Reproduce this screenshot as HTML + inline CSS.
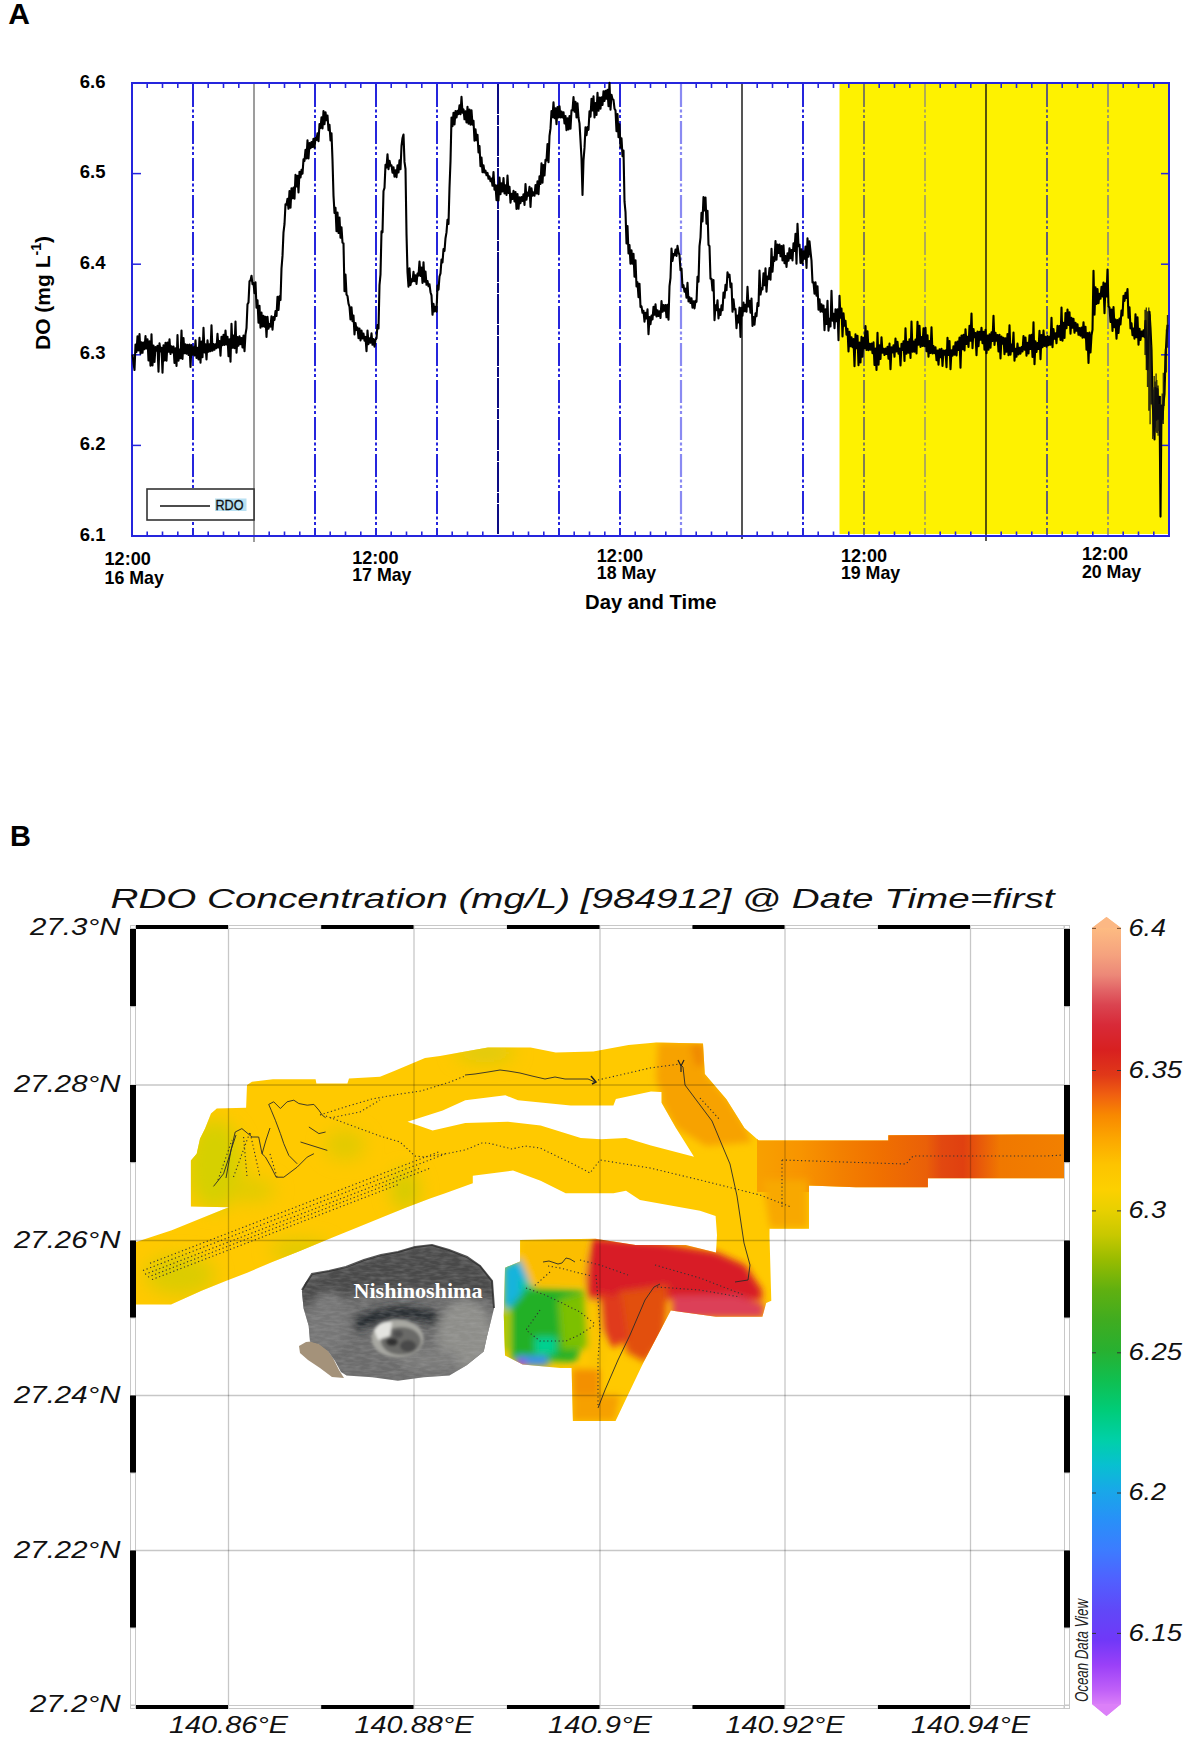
<!DOCTYPE html>
<html><head><meta charset="utf-8"><style>
html,body{margin:0;padding:0;background:#fff;}
body{width:1195px;height:1761px;overflow:hidden;position:relative;}
svg{position:absolute;left:0;top:0;display:block;}
.tk{font-family:"Liberation Sans",sans-serif;font-weight:bold;font-size:18.5px;fill:#000;}
.ttl{font-family:"Liberation Sans",sans-serif;font-weight:bold;font-size:19.5px;fill:#000;}
.pl{font-family:"Liberation Sans",sans-serif;font-weight:bold;font-size:29px;fill:#000;}
.yt{font-family:"Liberation Sans",sans-serif;font-weight:bold;font-size:21px;fill:#000;}
.leg{font-family:"Liberation Sans",sans-serif;font-size:14px;fill:#111;stroke:#111;stroke-width:0.3px;}
.mt{font-family:"Liberation Sans",sans-serif;font-style:italic;font-size:27px;fill:#111;}
.ax{font-family:"Liberation Sans",sans-serif;font-style:italic;font-size:23px;fill:#111;}
.odv{font-family:"Liberation Sans",sans-serif;font-style:italic;font-size:18px;fill:#222;}
.ni{font-family:"Liberation Serif",serif;font-weight:bold;font-size:22px;fill:#fff;}
</style></head><body>
<svg width="1195" height="1761" viewBox="0 0 1195 1761">

<rect x="839.5" y="84" width="329" height="450" fill="#fef200"/>
<line x1="193" y1="84" x2="193" y2="535" stroke="#2525dd" stroke-width="2" stroke-dasharray="23 2.5 3 2.5 3 3"/>
<line x1="254" y1="84" x2="254" y2="542" stroke="#858585" stroke-width="1.6"/>
<line x1="315" y1="84" x2="315" y2="535" stroke="#2525dd" stroke-width="2" stroke-dasharray="23 2.5 3 2.5 3 3"/>
<line x1="376" y1="84" x2="376" y2="535" stroke="#2525dd" stroke-width="2" stroke-dasharray="23 2.5 3 2.5 3 3"/>
<line x1="437" y1="84" x2="437" y2="535" stroke="#2525dd" stroke-width="2" stroke-dasharray="23 2.5 3 2.5 3 3"/>
<line x1="498" y1="84" x2="498" y2="535" stroke="#0c0c84" stroke-width="2" stroke-dasharray="30 1 10 1"/>
<line x1="559" y1="84" x2="559" y2="535" stroke="#2525dd" stroke-width="2" stroke-dasharray="23 2.5 3 2.5 3 3"/>
<line x1="620" y1="84" x2="620" y2="535" stroke="#2525dd" stroke-width="2" stroke-dasharray="23 2.5 3 2.5 3 3"/>
<line x1="681" y1="84" x2="681" y2="535" stroke="#8a8af2" stroke-width="2.2" stroke-dasharray="23 2.5 3 2.5 3 3"/>
<line x1="742" y1="84" x2="742" y2="539" stroke="#555" stroke-width="2"/>
<line x1="803" y1="84" x2="803" y2="535" stroke="#2525dd" stroke-width="2" stroke-dasharray="23 2.5 3 2.5 3 3"/>
<line x1="864" y1="84" x2="864" y2="535" stroke="#404080" stroke-width="1.3" stroke-dasharray="23 2.5 3 2.5 3 3"/>
<line x1="925" y1="84" x2="925" y2="535" stroke="#858585" stroke-width="1.3" stroke-dasharray="23 2.5 3 2.5 3 3"/>
<line x1="986" y1="84" x2="986" y2="541" stroke="#111" stroke-width="1.4"/>
<line x1="1047" y1="84" x2="1047" y2="535" stroke="#2020a8" stroke-width="1.4" stroke-dasharray="23 2.5 3 2.5 3 3"/>
<line x1="1108" y1="84" x2="1108" y2="535" stroke="#6a6aa0" stroke-width="1.3" stroke-dasharray="23 2.5 3 2.5 3 3"/>
<line x1="147.2" y1="84" x2="147.2" y2="88" stroke="#2525dd" stroke-width="1.6"/>
<line x1="147.2" y1="535" x2="147.2" y2="531.5" stroke="#2525dd" stroke-width="1.6"/>
<line x1="162.5" y1="84" x2="162.5" y2="88" stroke="#2525dd" stroke-width="1.6"/>
<line x1="162.5" y1="535" x2="162.5" y2="531.5" stroke="#2525dd" stroke-width="1.6"/>
<line x1="177.8" y1="84" x2="177.8" y2="88" stroke="#2525dd" stroke-width="1.6"/>
<line x1="177.8" y1="535" x2="177.8" y2="531.5" stroke="#2525dd" stroke-width="1.6"/>
<line x1="208.2" y1="84" x2="208.2" y2="88" stroke="#2525dd" stroke-width="1.6"/>
<line x1="208.2" y1="535" x2="208.2" y2="531.5" stroke="#2525dd" stroke-width="1.6"/>
<line x1="223.5" y1="84" x2="223.5" y2="88" stroke="#2525dd" stroke-width="1.6"/>
<line x1="223.5" y1="535" x2="223.5" y2="531.5" stroke="#2525dd" stroke-width="1.6"/>
<line x1="238.8" y1="84" x2="238.8" y2="88" stroke="#2525dd" stroke-width="1.6"/>
<line x1="238.8" y1="535" x2="238.8" y2="531.5" stroke="#2525dd" stroke-width="1.6"/>
<line x1="269.2" y1="84" x2="269.2" y2="88" stroke="#2525dd" stroke-width="1.6"/>
<line x1="269.2" y1="535" x2="269.2" y2="531.5" stroke="#2525dd" stroke-width="1.6"/>
<line x1="284.5" y1="84" x2="284.5" y2="88" stroke="#2525dd" stroke-width="1.6"/>
<line x1="284.5" y1="535" x2="284.5" y2="531.5" stroke="#2525dd" stroke-width="1.6"/>
<line x1="299.8" y1="84" x2="299.8" y2="88" stroke="#2525dd" stroke-width="1.6"/>
<line x1="299.8" y1="535" x2="299.8" y2="531.5" stroke="#2525dd" stroke-width="1.6"/>
<line x1="330.2" y1="84" x2="330.2" y2="88" stroke="#2525dd" stroke-width="1.6"/>
<line x1="330.2" y1="535" x2="330.2" y2="531.5" stroke="#2525dd" stroke-width="1.6"/>
<line x1="345.5" y1="84" x2="345.5" y2="88" stroke="#2525dd" stroke-width="1.6"/>
<line x1="345.5" y1="535" x2="345.5" y2="531.5" stroke="#2525dd" stroke-width="1.6"/>
<line x1="360.8" y1="84" x2="360.8" y2="88" stroke="#2525dd" stroke-width="1.6"/>
<line x1="360.8" y1="535" x2="360.8" y2="531.5" stroke="#2525dd" stroke-width="1.6"/>
<line x1="391.2" y1="84" x2="391.2" y2="88" stroke="#2525dd" stroke-width="1.6"/>
<line x1="391.2" y1="535" x2="391.2" y2="531.5" stroke="#2525dd" stroke-width="1.6"/>
<line x1="406.5" y1="84" x2="406.5" y2="88" stroke="#2525dd" stroke-width="1.6"/>
<line x1="406.5" y1="535" x2="406.5" y2="531.5" stroke="#2525dd" stroke-width="1.6"/>
<line x1="421.8" y1="84" x2="421.8" y2="88" stroke="#2525dd" stroke-width="1.6"/>
<line x1="421.8" y1="535" x2="421.8" y2="531.5" stroke="#2525dd" stroke-width="1.6"/>
<line x1="452.2" y1="84" x2="452.2" y2="88" stroke="#2525dd" stroke-width="1.6"/>
<line x1="452.2" y1="535" x2="452.2" y2="531.5" stroke="#2525dd" stroke-width="1.6"/>
<line x1="467.5" y1="84" x2="467.5" y2="88" stroke="#2525dd" stroke-width="1.6"/>
<line x1="467.5" y1="535" x2="467.5" y2="531.5" stroke="#2525dd" stroke-width="1.6"/>
<line x1="482.8" y1="84" x2="482.8" y2="88" stroke="#2525dd" stroke-width="1.6"/>
<line x1="482.8" y1="535" x2="482.8" y2="531.5" stroke="#2525dd" stroke-width="1.6"/>
<line x1="513.2" y1="84" x2="513.2" y2="88" stroke="#2525dd" stroke-width="1.6"/>
<line x1="513.2" y1="535" x2="513.2" y2="531.5" stroke="#2525dd" stroke-width="1.6"/>
<line x1="528.5" y1="84" x2="528.5" y2="88" stroke="#2525dd" stroke-width="1.6"/>
<line x1="528.5" y1="535" x2="528.5" y2="531.5" stroke="#2525dd" stroke-width="1.6"/>
<line x1="543.8" y1="84" x2="543.8" y2="88" stroke="#2525dd" stroke-width="1.6"/>
<line x1="543.8" y1="535" x2="543.8" y2="531.5" stroke="#2525dd" stroke-width="1.6"/>
<line x1="574.2" y1="84" x2="574.2" y2="88" stroke="#2525dd" stroke-width="1.6"/>
<line x1="574.2" y1="535" x2="574.2" y2="531.5" stroke="#2525dd" stroke-width="1.6"/>
<line x1="589.5" y1="84" x2="589.5" y2="88" stroke="#2525dd" stroke-width="1.6"/>
<line x1="589.5" y1="535" x2="589.5" y2="531.5" stroke="#2525dd" stroke-width="1.6"/>
<line x1="604.8" y1="84" x2="604.8" y2="88" stroke="#2525dd" stroke-width="1.6"/>
<line x1="604.8" y1="535" x2="604.8" y2="531.5" stroke="#2525dd" stroke-width="1.6"/>
<line x1="635.2" y1="84" x2="635.2" y2="88" stroke="#2525dd" stroke-width="1.6"/>
<line x1="635.2" y1="535" x2="635.2" y2="531.5" stroke="#2525dd" stroke-width="1.6"/>
<line x1="650.5" y1="84" x2="650.5" y2="88" stroke="#2525dd" stroke-width="1.6"/>
<line x1="650.5" y1="535" x2="650.5" y2="531.5" stroke="#2525dd" stroke-width="1.6"/>
<line x1="665.8" y1="84" x2="665.8" y2="88" stroke="#2525dd" stroke-width="1.6"/>
<line x1="665.8" y1="535" x2="665.8" y2="531.5" stroke="#2525dd" stroke-width="1.6"/>
<line x1="696.2" y1="84" x2="696.2" y2="88" stroke="#2525dd" stroke-width="1.6"/>
<line x1="696.2" y1="535" x2="696.2" y2="531.5" stroke="#2525dd" stroke-width="1.6"/>
<line x1="711.5" y1="84" x2="711.5" y2="88" stroke="#2525dd" stroke-width="1.6"/>
<line x1="711.5" y1="535" x2="711.5" y2="531.5" stroke="#2525dd" stroke-width="1.6"/>
<line x1="726.8" y1="84" x2="726.8" y2="88" stroke="#2525dd" stroke-width="1.6"/>
<line x1="726.8" y1="535" x2="726.8" y2="531.5" stroke="#2525dd" stroke-width="1.6"/>
<line x1="757.2" y1="84" x2="757.2" y2="88" stroke="#2525dd" stroke-width="1.6"/>
<line x1="757.2" y1="535" x2="757.2" y2="531.5" stroke="#2525dd" stroke-width="1.6"/>
<line x1="772.5" y1="84" x2="772.5" y2="88" stroke="#2525dd" stroke-width="1.6"/>
<line x1="772.5" y1="535" x2="772.5" y2="531.5" stroke="#2525dd" stroke-width="1.6"/>
<line x1="787.8" y1="84" x2="787.8" y2="88" stroke="#2525dd" stroke-width="1.6"/>
<line x1="787.8" y1="535" x2="787.8" y2="531.5" stroke="#2525dd" stroke-width="1.6"/>
<line x1="818.2" y1="84" x2="818.2" y2="88" stroke="#2525dd" stroke-width="1.6"/>
<line x1="818.2" y1="535" x2="818.2" y2="531.5" stroke="#2525dd" stroke-width="1.6"/>
<line x1="833.5" y1="84" x2="833.5" y2="88" stroke="#2525dd" stroke-width="1.6"/>
<line x1="833.5" y1="535" x2="833.5" y2="531.5" stroke="#2525dd" stroke-width="1.6"/>
<line x1="848.8" y1="84" x2="848.8" y2="88" stroke="#2525dd" stroke-width="1.6"/>
<line x1="848.8" y1="535" x2="848.8" y2="531.5" stroke="#2525dd" stroke-width="1.6"/>
<line x1="879.2" y1="84" x2="879.2" y2="88" stroke="#2525dd" stroke-width="1.6"/>
<line x1="879.2" y1="535" x2="879.2" y2="531.5" stroke="#2525dd" stroke-width="1.6"/>
<line x1="894.5" y1="84" x2="894.5" y2="88" stroke="#2525dd" stroke-width="1.6"/>
<line x1="894.5" y1="535" x2="894.5" y2="531.5" stroke="#2525dd" stroke-width="1.6"/>
<line x1="909.8" y1="84" x2="909.8" y2="88" stroke="#2525dd" stroke-width="1.6"/>
<line x1="909.8" y1="535" x2="909.8" y2="531.5" stroke="#2525dd" stroke-width="1.6"/>
<line x1="940.2" y1="84" x2="940.2" y2="88" stroke="#2525dd" stroke-width="1.6"/>
<line x1="940.2" y1="535" x2="940.2" y2="531.5" stroke="#2525dd" stroke-width="1.6"/>
<line x1="955.5" y1="84" x2="955.5" y2="88" stroke="#2525dd" stroke-width="1.6"/>
<line x1="955.5" y1="535" x2="955.5" y2="531.5" stroke="#2525dd" stroke-width="1.6"/>
<line x1="970.8" y1="84" x2="970.8" y2="88" stroke="#2525dd" stroke-width="1.6"/>
<line x1="970.8" y1="535" x2="970.8" y2="531.5" stroke="#2525dd" stroke-width="1.6"/>
<line x1="1001.2" y1="84" x2="1001.2" y2="88" stroke="#2525dd" stroke-width="1.6"/>
<line x1="1001.2" y1="535" x2="1001.2" y2="531.5" stroke="#2525dd" stroke-width="1.6"/>
<line x1="1016.5" y1="84" x2="1016.5" y2="88" stroke="#2525dd" stroke-width="1.6"/>
<line x1="1016.5" y1="535" x2="1016.5" y2="531.5" stroke="#2525dd" stroke-width="1.6"/>
<line x1="1031.8" y1="84" x2="1031.8" y2="88" stroke="#2525dd" stroke-width="1.6"/>
<line x1="1031.8" y1="535" x2="1031.8" y2="531.5" stroke="#2525dd" stroke-width="1.6"/>
<line x1="1062.2" y1="84" x2="1062.2" y2="88" stroke="#2525dd" stroke-width="1.6"/>
<line x1="1062.2" y1="535" x2="1062.2" y2="531.5" stroke="#2525dd" stroke-width="1.6"/>
<line x1="1077.5" y1="84" x2="1077.5" y2="88" stroke="#2525dd" stroke-width="1.6"/>
<line x1="1077.5" y1="535" x2="1077.5" y2="531.5" stroke="#2525dd" stroke-width="1.6"/>
<line x1="1092.8" y1="84" x2="1092.8" y2="88" stroke="#2525dd" stroke-width="1.6"/>
<line x1="1092.8" y1="535" x2="1092.8" y2="531.5" stroke="#2525dd" stroke-width="1.6"/>
<line x1="1123.2" y1="84" x2="1123.2" y2="88" stroke="#2525dd" stroke-width="1.6"/>
<line x1="1123.2" y1="535" x2="1123.2" y2="531.5" stroke="#2525dd" stroke-width="1.6"/>
<line x1="1138.5" y1="84" x2="1138.5" y2="88" stroke="#2525dd" stroke-width="1.6"/>
<line x1="1138.5" y1="535" x2="1138.5" y2="531.5" stroke="#2525dd" stroke-width="1.6"/>
<line x1="1153.8" y1="84" x2="1153.8" y2="88" stroke="#2525dd" stroke-width="1.6"/>
<line x1="1153.8" y1="535" x2="1153.8" y2="531.5" stroke="#2525dd" stroke-width="1.6"/>
<line x1="132" y1="173.6" x2="141" y2="173.6" stroke="#2525dd" stroke-width="1.5"/>
<line x1="1169" y1="173.6" x2="1161" y2="173.6" stroke="#2525dd" stroke-width="1.5"/>
<line x1="132" y1="264.2" x2="141" y2="264.2" stroke="#2525dd" stroke-width="1.5"/>
<line x1="1169" y1="264.2" x2="1161" y2="264.2" stroke="#2525dd" stroke-width="1.5"/>
<line x1="132" y1="354.8" x2="141" y2="354.8" stroke="#2525dd" stroke-width="1.5"/>
<line x1="1169" y1="354.8" x2="1161" y2="354.8" stroke="#2525dd" stroke-width="1.5"/>
<line x1="132" y1="445.4" x2="141" y2="445.4" stroke="#2525dd" stroke-width="1.5"/>
<line x1="1169" y1="445.4" x2="1161" y2="445.4" stroke="#2525dd" stroke-width="1.5"/>
<rect x="132" y="83" width="1037" height="453" fill="none" stroke="#2525dd" stroke-width="2"/>
<rect x="147" y="489" width="107" height="31" fill="#fff" stroke="#333" stroke-width="1.6"/>
<line x1="160" y1="506" x2="210" y2="506" stroke="#111" stroke-width="1.3"/>
<rect x="215" y="498.5" width="31.5" height="12.5" fill="#b8e0f2"/>
<text x="215.5" y="510.2" class="leg" textLength="28" lengthAdjust="spacingAndGlyphs">RDO</text>
<polyline points="132.5,354.5 133.5,363.0 134.5,370.0 135.5,344.5 136.5,352.0 137.5,336.4 138.5,350.5 139.5,334.1 140.5,353.6 141.5,342.2 142.5,352.8 143.5,342.6 144.5,349.2 145.5,336.1 146.5,348.5 147.5,339.3 148.5,360.4 149.5,341.4 150.5,365.7 151.5,334.3 152.5,365.4 153.5,345.5 154.5,362.0 155.5,347.0 156.5,350.6 157.5,345.8 158.5,371.8 159.5,343.3 160.5,351.5 161.5,347.8 162.5,372.6 163.5,345.3 164.5,360.5 165.5,342.8 166.5,360.6 167.5,342.6 168.5,351.8 169.5,339.3 170.5,354.0 171.5,346.2 172.5,352.4 173.5,346.5 174.5,362.9 175.5,348.4 176.5,365.9 177.5,335.1 178.5,360.6 179.5,349.6 180.5,358.3 181.5,330.6 182.5,359.0 183.5,338.0 184.5,353.3 185.5,344.4 186.5,353.6 187.5,344.8 188.5,355.0 189.5,344.6 190.5,366.9 191.5,345.1 192.5,354.6 193.5,347.4 194.5,355.5 195.5,340.3 196.5,357.9 197.5,347.8 198.5,359.5 199.5,337.8 200.5,362.8 201.5,341.5 202.5,357.2 203.5,327.9 204.5,352.5 205.5,344.3 206.5,359.4 207.5,340.3 208.5,351.8 209.5,344.4 210.5,351.1 211.5,325.3 212.5,350.7 213.5,344.0 214.5,349.7 215.5,344.3 216.5,348.3 217.5,333.9 218.5,347.4 219.5,341.0 220.5,355.6 221.5,336.8 222.5,345.2 223.5,334.8 224.5,345.0 225.5,330.5 226.5,344.5 227.5,336.7 228.5,356.2 229.5,339.2 230.5,361.7 231.5,323.7 232.5,347.8 233.5,335.6 234.5,348.2 235.5,321.5 236.5,352.6 237.5,337.1 238.5,345.6 239.5,336.4 240.5,344.1 241.5,338.0 242.5,347.5 243.5,335.6 244.5,351.2 245.5,334.3 246.5,328.2 247.5,304.3 248.5,302.4 249.5,281.3 250.5,280.4 251.5,275.7 252.5,284.1 253.5,283.0 254.5,293.2 255.5,282.2 256.5,307.8 257.5,300.4 258.5,322.8 259.5,305.9 260.5,327.8 261.5,312.6 262.5,326.4 263.5,315.9 264.5,326.6 265.5,316.7 266.5,337.0 267.5,316.8 268.5,328.7 269.5,324.1 270.5,326.6 271.5,316.2 272.5,329.7 273.5,317.1 274.5,320.0 275.5,311.0 276.5,315.9 277.5,296.9 278.5,309.9 279.5,296.2 280.5,300.0 281.5,268.4 282.5,255.9 283.5,232.3 284.5,224.0 285.5,204.3 286.5,204.7 287.5,198.8 288.5,208.8 289.5,191.0 290.5,207.7 291.5,188.4 292.5,198.3 293.5,187.5 294.5,198.7 295.5,174.9 296.5,186.4 297.5,175.9 298.5,192.4 299.5,171.9 300.5,177.5 301.5,169.9 302.5,173.8 303.5,159.4 304.5,160.9 305.5,149.8 306.5,158.4 307.5,140.3 308.5,158.5 309.5,143.1 310.5,148.3 311.5,142.0 312.5,147.0 313.5,138.7 314.5,147.7 315.5,138.1 316.5,139.9 317.5,133.2 318.5,141.2 319.5,124.0 320.5,128.1 321.5,117.4 322.5,128.5 323.5,111.0 324.5,124.1 325.5,112.2 326.5,120.2 327.5,115.6 328.5,130.2 329.5,124.7 330.5,140.4 331.5,133.2 332.5,160.1 333.5,195.6 334.5,212.9 335.5,207.8 336.5,231.1 337.5,212.6 338.5,233.0 339.5,217.6 340.5,237.8 341.5,227.4 342.5,242.7 343.5,243.3 344.5,291.3 345.5,274.6 346.5,294.6 347.5,296.0 348.5,303.7 349.5,306.7 350.5,319.4 351.5,307.3 352.5,321.2 353.5,315.6 354.5,334.5 355.5,323.0 356.5,330.0 357.5,327.5 358.5,338.1 359.5,328.6 360.5,340.5 361.5,330.5 362.5,338.5 363.5,333.6 364.5,340.6 365.5,336.9 366.5,351.3 367.5,330.6 368.5,344.1 369.5,338.4 370.5,342.8 371.5,333.3 372.5,344.8 373.5,339.1 374.5,346.6 375.5,339.5 376.5,338.3 377.5,325.0 378.5,328.5 379.5,285.2 380.5,274.3 381.5,231.4 382.5,232.3 383.5,191.0 384.5,187.9 385.5,164.9 386.5,167.6 387.5,154.4 388.5,169.1 389.5,160.8 390.5,165.8 391.5,165.3 392.5,172.7 393.5,167.2 394.5,176.6 395.5,170.3 396.5,177.1 397.5,165.4 398.5,172.4 399.5,160.4 400.5,169.3 401.5,146.0 402.5,138.0 403.5,134.6 404.5,161.9 405.5,169.0 406.5,233.7 407.5,272.1 408.5,286.7 409.5,268.4 410.5,285.1 411.5,279.4 412.5,281.3 413.5,271.8 414.5,281.1 415.5,275.3 416.5,284.0 417.5,273.5 418.5,275.6 419.5,261.5 420.5,275.9 421.5,267.6 422.5,282.9 423.5,262.2 424.5,281.8 425.5,271.5 426.5,284.8 427.5,281.0 428.5,286.3 429.5,284.3 430.5,292.2 431.5,295.4 432.5,314.8 433.5,303.8 434.5,311.4 435.5,306.7 436.5,311.6 437.5,285.6 438.5,289.7 439.5,276.5 440.5,273.4 441.5,259.6 442.5,262.5 443.5,249.0 444.5,251.0 445.5,238.2 446.5,232.4 447.5,219.7 448.5,224.0 449.5,187.5 450.5,161.1 451.5,117.5 452.5,126.2 453.5,112.9 454.5,124.4 455.5,111.0 456.5,117.5 457.5,110.8 458.5,114.1 459.5,105.3 460.5,114.2 461.5,96.8 462.5,112.8 463.5,109.4 464.5,119.3 465.5,111.4 466.5,122.5 467.5,106.9 468.5,123.8 469.5,109.5 470.5,124.8 471.5,110.3 472.5,124.8 473.5,120.8 474.5,140.7 475.5,129.3 476.5,140.3 477.5,134.8 478.5,152.4 479.5,146.0 480.5,166.2 481.5,157.6 482.5,172.3 483.5,165.4 484.5,172.5 485.5,170.7 486.5,175.3 487.5,172.9 488.5,178.7 489.5,176.4 490.5,181.2 491.5,178.6 492.5,185.8 493.5,172.0 494.5,189.6 495.5,185.2 496.5,200.3 497.5,185.2 498.5,200.5 499.5,177.5 500.5,194.1 501.5,183.4 502.5,191.5 503.5,178.1 504.5,193.4 505.5,185.4 506.5,195.0 507.5,175.6 508.5,192.9 509.5,186.8 510.5,202.6 511.5,193.9 512.5,199.0 513.5,190.8 514.5,201.4 515.5,192.1 516.5,208.9 517.5,194.1 518.5,208.8 519.5,197.2 520.5,203.1 521.5,197.0 522.5,200.9 523.5,194.2 524.5,205.0 525.5,184.1 526.5,199.6 527.5,192.5 528.5,195.7 529.5,186.8 530.5,207.0 531.5,188.3 532.5,195.7 533.5,192.4 534.5,195.8 535.5,185.0 536.5,193.4 537.5,181.3 538.5,194.1 539.5,176.3 540.5,183.9 541.5,163.2 542.5,182.7 543.5,165.1 544.5,175.5 545.5,159.7 546.5,160.6 547.5,144.1 548.5,162.2 549.5,135.8 550.5,128.4 551.5,111.1 552.5,117.1 553.5,102.2 554.5,118.2 555.5,108.3 556.5,124.2 557.5,107.0 558.5,117.4 559.5,106.2 560.5,117.5 561.5,111.5 562.5,117.5 563.5,112.2 564.5,123.5 565.5,116.0 566.5,130.1 567.5,118.2 568.5,129.5 569.5,116.1 570.5,128.7 571.5,110.3 572.5,110.3 573.5,97.0 574.5,111.6 575.5,101.7 576.5,117.5 577.5,103.2 578.5,117.8 579.5,123.4 580.5,140.4 581.5,158.5 582.5,194.9 583.5,160.4 584.5,147.9 585.5,127.3 586.5,135.2 587.5,127.1 588.5,129.8 589.5,111.2 590.5,116.7 591.5,98.9 592.5,110.5 593.5,96.4 594.5,117.4 595.5,103.1 596.5,115.0 597.5,92.8 598.5,110.8 599.5,97.6 600.5,108.6 601.5,97.2 602.5,104.9 603.5,91.4 604.5,101.0 605.5,90.8 606.5,98.8 607.5,89.7 608.5,106.1 609.5,82.7 610.5,109.8 611.5,94.7 612.5,99.2 613.5,99.9 614.5,108.7 615.5,110.4 616.5,131.3 617.5,114.1 618.5,137.2 619.5,124.4 620.5,147.5 621.5,138.3 622.5,156.1 623.5,150.5 624.5,201.4 625.5,212.1 626.5,243.4 627.5,226.0 628.5,253.5 629.5,245.0 630.5,263.8 631.5,250.3 632.5,263.6 633.5,253.8 634.5,276.7 635.5,260.3 636.5,286.5 637.5,282.3 638.5,297.3 639.5,283.9 640.5,307.0 641.5,306.3 642.5,312.8 643.5,310.8 644.5,321.7 645.5,312.9 646.5,318.5 647.5,309.3 648.5,334.2 649.5,317.0 650.5,324.1 651.5,315.5 652.5,319.5 653.5,306.9 654.5,314.8 655.5,304.3 656.5,316.5 657.5,310.2 658.5,316.0 659.5,311.2 660.5,318.0 661.5,301.0 662.5,311.8 663.5,305.0 664.5,310.7 665.5,305.1 666.5,317.3 667.5,304.9 668.5,319.7 669.5,286.2 670.5,277.8 671.5,248.6 672.5,260.9 673.5,254.1 674.5,255.3 675.5,249.6 676.5,255.9 677.5,245.8 678.5,252.4 679.5,255.1 680.5,270.3 681.5,268.6 682.5,287.3 683.5,285.3 684.5,291.6 685.5,288.7 686.5,297.7 687.5,282.7 688.5,301.5 689.5,297.3 690.5,303.0 691.5,298.3 692.5,307.6 693.5,301.3 694.5,308.4 695.5,300.9 696.5,301.8 697.5,276.9 698.5,281.8 699.5,246.1 700.5,237.5 701.5,212.7 702.5,221.4 703.5,197.0 704.5,210.5 705.5,197.6 706.5,223.7 707.5,210.8 708.5,244.8 709.5,246.2 710.5,278.7 711.5,278.8 712.5,290.4 713.5,280.1 714.5,320.3 715.5,305.4 716.5,310.2 717.5,300.3 718.5,318.5 719.5,309.4 720.5,315.0 721.5,305.4 722.5,310.3 723.5,292.6 724.5,297.8 725.5,284.9 726.5,290.3 727.5,272.3 728.5,276.9 729.5,274.6 730.5,287.1 731.5,283.5 732.5,311.8 733.5,299.4 734.5,309.5 735.5,309.0 736.5,328.2 737.5,315.6 738.5,322.4 739.5,307.5 740.5,337.0 741.5,307.7 742.5,315.6 743.5,302.6 744.5,311.3 745.5,304.8 746.5,311.8 747.5,286.7 748.5,306.5 749.5,300.8 750.5,312.6 751.5,298.5 752.5,325.9 753.5,317.0 754.5,324.7 755.5,313.4 756.5,316.2 757.5,303.1 758.5,305.9 759.5,270.6 760.5,294.5 761.5,288.0 762.5,289.3 763.5,273.4 764.5,285.2 765.5,268.4 766.5,291.6 767.5,276.6 768.5,279.1 769.5,268.0 770.5,279.6 771.5,248.9 772.5,271.8 773.5,257.3 774.5,261.0 775.5,241.0 776.5,259.8 777.5,244.6 778.5,253.0 779.5,244.5 780.5,256.3 781.5,246.1 782.5,260.5 783.5,245.4 784.5,263.2 785.5,256.1 786.5,266.9 787.5,253.4 788.5,260.6 789.5,248.2 790.5,258.3 791.5,250.1 792.5,260.4 793.5,243.2 794.5,251.0 795.5,233.8 796.5,263.6 797.5,223.8 798.5,246.3 799.5,244.6 800.5,263.0 801.5,249.2 802.5,263.8 803.5,251.4 804.5,258.6 805.5,246.6 806.5,267.9 807.5,238.2 808.5,256.8 809.5,241.3 810.5,251.3 811.5,260.6 812.5,282.4 813.5,282.2 814.5,293.7 815.5,282.3 816.5,295.7 817.5,286.4 818.5,309.6 819.5,299.2 820.5,311.6 821.5,304.2 822.5,311.6 823.5,305.5 824.5,330.2 825.5,309.4 826.5,324.0 827.5,300.9 828.5,330.7 829.5,318.8 830.5,326.4 831.5,290.8 832.5,320.7 833.5,313.8 834.5,328.2 835.5,309.3 836.5,321.1 837.5,309.3 838.5,340.3 839.5,295.9 840.5,317.7 841.5,308.6 842.5,336.5 843.5,313.3 844.5,325.7 845.5,320.8 846.5,334.8 847.5,328.8 848.5,351.4 849.5,331.9 850.5,346.2 851.5,337.2 852.5,347.2 853.5,339.1 854.5,366.1 855.5,334.2 856.5,348.3 857.5,335.8 858.5,365.1 859.5,342.5 860.5,362.5 861.5,336.8 862.5,356.8 863.5,337.7 864.5,348.2 865.5,326.1 866.5,349.9 867.5,331.3 868.5,350.2 869.5,343.7 870.5,349.7 871.5,343.5 872.5,353.2 873.5,342.4 874.5,365.0 875.5,348.5 876.5,370.0 877.5,332.8 878.5,364.6 879.5,345.4 880.5,358.9 881.5,337.3 882.5,352.7 883.5,348.8 884.5,355.0 885.5,348.5 886.5,354.0 887.5,346.9 888.5,358.7 889.5,343.6 890.5,369.3 891.5,347.2 892.5,352.4 893.5,345.3 894.5,356.8 895.5,338.5 896.5,351.4 897.5,341.9 898.5,353.7 899.5,348.6 900.5,365.5 901.5,343.7 902.5,350.0 903.5,341.4 904.5,361.0 905.5,328.4 906.5,353.6 907.5,341.9 908.5,352.6 909.5,339.4 910.5,357.9 911.5,321.5 912.5,351.8 913.5,341.5 914.5,351.7 915.5,339.6 916.5,353.5 917.5,321.7 918.5,344.7 919.5,325.7 920.5,346.9 921.5,337.0 922.5,345.9 923.5,328.3 924.5,346.2 925.5,327.9 926.5,351.3 927.5,335.2 928.5,356.7 929.5,341.0 930.5,352.9 931.5,327.3 932.5,353.5 933.5,346.1 934.5,353.1 935.5,347.4 936.5,360.2 937.5,350.6 938.5,364.8 939.5,349.3 940.5,357.3 941.5,348.8 942.5,365.9 943.5,350.5 944.5,354.8 945.5,350.4 946.5,367.2 947.5,337.8 948.5,354.9 949.5,341.1 950.5,369.2 951.5,350.4 952.5,355.8 953.5,346.2 954.5,354.6 955.5,342.4 956.5,355.4 957.5,341.6 958.5,350.0 959.5,337.5 960.5,367.6 961.5,335.5 962.5,349.1 963.5,334.9 964.5,350.5 965.5,329.3 966.5,343.9 967.5,336.9 968.5,346.9 969.5,325.9 970.5,340.6 971.5,313.5 972.5,348.3 973.5,329.0 974.5,337.1 975.5,333.1 976.5,355.1 977.5,331.6 978.5,346.3 979.5,331.9 980.5,339.8 981.5,327.7 982.5,343.2 983.5,331.9 984.5,349.6 985.5,329.7 986.5,353.1 987.5,335.5 988.5,349.6 989.5,334.2 990.5,347.6 991.5,332.2 992.5,341.0 993.5,315.8 994.5,344.9 995.5,332.7 996.5,340.8 997.5,335.1 998.5,351.4 999.5,334.8 1000.5,358.4 1001.5,336.5 1002.5,343.6 1003.5,337.8 1004.5,354.3 1005.5,338.4 1006.5,351.8 1007.5,334.1 1008.5,355.1 1009.5,325.4 1010.5,354.7 1011.5,344.6 1012.5,351.1 1013.5,332.5 1014.5,360.7 1015.5,348.9 1016.5,356.6 1017.5,343.5 1018.5,354.4 1019.5,347.9 1020.5,353.6 1021.5,347.1 1022.5,351.4 1023.5,336.1 1024.5,349.6 1025.5,337.5 1026.5,355.6 1027.5,342.9 1028.5,353.4 1029.5,335.2 1030.5,348.9 1031.5,334.8 1032.5,357.0 1033.5,322.2 1034.5,364.3 1035.5,341.4 1036.5,352.0 1037.5,343.1 1038.5,349.0 1039.5,330.8 1040.5,359.3 1041.5,335.0 1042.5,347.2 1043.5,330.6 1044.5,345.9 1045.5,336.9 1046.5,346.6 1047.5,336.1 1048.5,345.1 1049.5,336.8 1050.5,344.8 1051.5,317.9 1052.5,347.3 1053.5,329.1 1054.5,338.8 1055.5,333.4 1056.5,343.3 1057.5,325.8 1058.5,336.6 1059.5,326.0 1060.5,339.9 1061.5,307.6 1062.5,340.7 1063.5,322.7 1064.5,338.0 1065.5,313.0 1066.5,328.3 1067.5,309.6 1068.5,324.9 1069.5,312.2 1070.5,333.8 1071.5,317.8 1072.5,327.6 1073.5,318.7 1074.5,332.8 1075.5,322.7 1076.5,330.8 1077.5,324.3 1078.5,334.8 1079.5,328.1 1080.5,335.7 1081.5,327.6 1082.5,337.6 1083.5,322.2 1084.5,337.5 1085.5,326.7 1086.5,349.7 1087.5,333.0 1088.5,362.9 1089.5,332.6 1090.5,352.5 1091.5,335.4 1092.5,329.8 1093.5,270.7 1094.5,314.6 1095.5,287.4 1096.5,304.0 1097.5,289.0 1098.5,303.1 1099.5,293.9 1100.5,298.7 1101.5,286.8 1102.5,296.5 1103.5,282.6 1104.5,313.1 1105.5,283.6 1106.5,296.5 1107.5,269.5 1108.5,306.3 1109.5,307.5 1110.5,322.0 1111.5,309.5 1112.5,330.9 1113.5,307.0 1114.5,327.3 1115.5,319.5 1116.5,338.8 1117.5,320.1 1118.5,333.0 1119.5,318.5 1120.5,324.5 1121.5,310.6 1122.5,315.5 1123.5,295.9 1124.5,300.9 1125.5,292.8 1126.5,297.9 1127.5,289.0 1128.5,317.8 1129.5,307.4 1130.5,328.4 1131.5,323.3 1132.5,335.1 1133.5,328.6 1134.5,338.7 1135.5,314.3 1136.5,337.1 1137.5,317.4 1138.5,344.7 1139.5,328.7 1140.5,339.9 1141.5,331.6 1142.5,336.2 1143.5,330.4 1144.5,337.2 1145.5,320.7 1146.5,346.8 1147.5,369.4 1148.5,338.3 1149.5,311.8 1150.5,328.2 1151.5,350.4 1152.5,400.8 1153.5,417.7 1154.5,439.5 1155.5,387.8 1156.5,419.7 1157.5,389.1 1158.5,418.6 1159.5,396.8 1160.5,516.6 1161.5,405.6 1162.5,419.3 1163.5,403.0 1164.5,394.1 1165.5,356.7 1166.5,340.4 1167.5,324.7" fill="none" stroke="#000" stroke-width="2.1" stroke-linejoin="round"/><path d="M1145.0,309.7V355.0M1146.3,307.4V370.1M1147.5,311.2V387.1M1148.8,307.6V410.8M1150.1,314.6V424.2M1151.4,344.9V404.4M1152.7,387.2V438.9M1153.5,389.8V423.0M1154.2,376.0V435.8M1155.0,381.4V427.5M1156.1,373.4V431.8M1156.8,380.0V432.9M1158.1,385.6V435.8M1159.2,404.0V431.0M1160.4,396.0V483.5M1161.2,405.4V448.3M1162.2,393.4V423.7M1163.3,372.8V424.0M1164.1,381.7V406.0M1165.4,348.7V376.7M1166.4,329.6V372.4M1167.5,315.0V347.8" stroke="#111" stroke-width="1.3" fill="none" opacity="0.85"/>
<text x="105.5" y="87.5" text-anchor="end" class="tk">6.6</text>
<text x="105.5" y="178.1" text-anchor="end" class="tk">6.5</text>
<text x="105.5" y="268.7" text-anchor="end" class="tk">6.4</text>
<text x="105.5" y="359.3" text-anchor="end" class="tk">6.3</text>
<text x="105.5" y="449.9" text-anchor="end" class="tk">6.2</text>
<text x="105.5" y="540.5" text-anchor="end" class="tk">6.1</text>
<text x="104.5" y="564.9" class="tk" textLength="46.3" lengthAdjust="spacingAndGlyphs">12:00</text><text x="104.5" y="583.7" class="tk" textLength="59.3" lengthAdjust="spacingAndGlyphs">16 May</text>
<text x="352.2" y="564.0" class="tk" textLength="46.3" lengthAdjust="spacingAndGlyphs">12:00</text><text x="352.2" y="581.0" class="tk" textLength="59.3" lengthAdjust="spacingAndGlyphs">17 May</text>
<text x="596.8" y="561.7" class="tk" textLength="46.3" lengthAdjust="spacingAndGlyphs">12:00</text><text x="596.8" y="579.0" class="tk" textLength="59.3" lengthAdjust="spacingAndGlyphs">18 May</text>
<text x="840.9" y="561.7" class="tk" textLength="46.3" lengthAdjust="spacingAndGlyphs">12:00</text><text x="840.9" y="579.0" class="tk" textLength="59.3" lengthAdjust="spacingAndGlyphs">19 May</text>
<text x="1081.9" y="559.6" class="tk" textLength="46.3" lengthAdjust="spacingAndGlyphs">12:00</text><text x="1081.9" y="577.8" class="tk" textLength="59.3" lengthAdjust="spacingAndGlyphs">20 May</text>
<text x="585" y="608.8" class="ttl" textLength="131.5" lengthAdjust="spacingAndGlyphs">Day and Time</text>
<text x="8.3" y="24.2" class="pl" style="font-size:30px">A</text>
<text x="-350" y="49.6" transform="rotate(-90)" class="yt">DO (mg L<tspan dy="-9" font-size="14">-1</tspan><tspan dy="9">)</tspan></text>

<text x="110.5" y="907.7" class="mt" textLength="944" lengthAdjust="spacingAndGlyphs">RDO Concentration (mg/L) [984912] @ Date Time=first</text>
<defs><clipPath id="trk"><path d="M136.0,1304.6 L136.0,1241.9 L146.7,1238.5 L171.8,1230.2 L197.0,1220.0 L223.7,1209.2 L229.0,1207.2 L190.9,1206.4 L190.9,1160.4 L196.7,1153.7 L200.0,1138.7 L205.1,1128.6 L211.0,1113.6 L216.8,1108.5 L246.1,1107.7 L247.0,1085.1 L252.0,1081.8 L272.9,1079.2 L315.6,1079.2 L316.4,1083.4 L347.4,1083.4 L349.0,1078.4 L380.0,1076.7 L393.6,1071.3 L425.0,1058.0 L440.0,1056.0 L465.3,1051.4 L487.9,1047.6 L530.6,1047.6 L555.7,1052.6 L593.3,1051.4 L628.5,1045.1 L656.1,1042.6 L703.0,1043.4 L704.8,1074.0 L726.4,1099.2 L744.4,1128.0 L758.7,1140.5 L888.3,1140.5 L888.3,1135.2 L1064.0,1134.4 L1064.0,1178.3 L927.9,1178.3 L927.9,1187.3 L855.9,1187.3 L809.0,1185.5 L809.0,1228.7 L769.5,1228.7 L769.5,1236.0 L771.3,1300.7 L766.2,1302.9 L762.4,1316.7 L716.0,1316.7 L670.8,1310.4 L643.2,1363.1 L615.5,1420.9 L572.9,1420.9 L571.6,1368.1 L560.3,1368.1 L522.6,1364.4 L505.0,1355.6 L503.8,1315.4 L505.0,1267.7 L520.1,1261.4 L520.1,1240.1 L595.4,1238.8 L635.6,1245.1 L685.8,1245.1 L716.0,1252.6 L717.0,1235.0 L715.6,1216.0 L700.0,1210.8 L640.0,1200.0 L626.0,1190.7 L613.4,1193.2 L565.7,1193.2 L540.6,1180.7 L513.0,1170.6 L472.8,1175.7 L472.8,1183.2 L445.2,1193.2 L430.0,1198.5 L406.2,1207.5 L356.0,1228.0 L330.0,1238.5 L297.4,1252.0 L272.3,1262.0 L247.2,1272.8 L227.0,1280.4 L202.0,1290.4 L171.0,1304.6 Z M407.5,1121.7 L442.7,1110.4 L465.3,1100.3 L505.4,1095.3 L518.0,1100.3 L570.7,1105.4 L613.4,1105.4 L615.9,1099.1 L651.0,1091.6 L661.6,1092.0 L661.6,1102.8 L676.0,1128.0 L694.0,1156.7 L651.0,1145.5 L626.0,1138.0 L600.9,1139.3 L580.8,1138.0 L540.6,1125.4 L508.0,1121.7 L465.3,1123.0 L432.6,1130.5 Z" clip-rule="evenodd"/></clipPath>
<filter id="bl" x="-20%" y="-20%" width="140%" height="140%"><feGaussianBlur stdDeviation="9"/></filter><filter id="bl3" x="-20%" y="-20%" width="140%" height="140%"><feGaussianBlur stdDeviation="3.5"/></filter>
<linearGradient id="eg" gradientUnits="userSpaceOnUse" x1="758" y1="0" x2="1064" y2="0"><stop offset="0" stop-color="#f8a000"/><stop offset="0.14" stop-color="#f89400"/><stop offset="0.27" stop-color="#f38000"/><stop offset="0.4" stop-color="#f07000"/><stop offset="0.55" stop-color="#ea6008"/><stop offset="0.6" stop-color="#e24810"/><stop offset="0.67" stop-color="#e04010"/><stop offset="0.74" stop-color="#ea6008"/><stop offset="0.79" stop-color="#f07800"/><stop offset="1" stop-color="#f28000"/></linearGradient></defs>
<g clip-path="url(#trk)"><rect x="130" y="1030" width="940" height="400" fill="#ffc900"/><g filter="url(#bl)"><ellipse cx="215" cy="1165" rx="28" ry="45" fill="#d6d000"/>
<ellipse cx="180" cy="1275" rx="35" ry="20" fill="#dccc00"/>
<ellipse cx="300" cy="1250" rx="30" ry="10" fill="#dcca00"/>
<ellipse cx="250" cy="1190" rx="25" ry="12" fill="#e0cc00"/>
<ellipse cx="485" cy="1053" rx="30" ry="9" fill="#d8cc10"/>
<ellipse cx="405" cy="1190" rx="14" ry="20" fill="#d4cc00"/>
<ellipse cx="345" cy="1145" rx="20" ry="15" fill="#e0ca00"/></g><rect x="757" y="1130" width="310" height="62" fill="url(#eg)"/><g filter="url(#bl3)"><polygon points="658,1042 705,1042 706,1074 728,1099 746,1128 752,1142 706,1146 676,1128 661,1102 661,1092 656,1080" fill="#f7a200"/>
<polygon points="690,1044 705,1044 706,1066 695,1066" fill="#f08a00"/>
<polygon points="762,1180 808,1180 808,1228 770,1228" fill="#f8a800"/>
<polygon points="520,1240 588,1238 586,1285 520,1285" fill="#fbbe00"/>
<polygon points="592,1238 660,1243 716,1252 745,1265 762,1290 762,1300 700,1296 660,1300 630,1312 604,1310 589,1300 586,1280 588,1260" fill="#d81f28"/>
<polygon points="618,1292 668,1285 664,1340 645,1362 626,1352" fill="#e25010"/>
<polygon points="598,1292 622,1298 628,1340 612,1348 600,1325" fill="#e03a1a"/>
<polygon points="672,1296 735,1295 764,1304 764,1318 672,1318" fill="#dc4058"/>
<polygon points="503,1266 520,1259 528,1278 532,1292 526,1306 503,1309" fill="#18b4dc"/>
<polygon points="520,1278 536,1288 540,1306 522,1306" fill="#00c8a0"/>
<polygon points="511,1307 527,1288 584,1290 586,1338 575,1362 511,1360" fill="#22b028"/>
<polygon points="558,1300 584,1292 588,1348 562,1350" fill="#7cc000"/>
<polygon points="535,1337 556,1337 556,1354 535,1354" fill="#00d090"/>
<polygon points="500,1309 510,1309 510,1351 500,1351" fill="#a8c800"/>
<polygon points="516,1356 548,1356 548,1366 516,1366" fill="#3c8cf0"/>
<polygon points="516,1359 526,1359 526,1366 516,1366" fill="#9030f0"/>
<polygon points="588,1300 600,1300 606,1366 588,1366" fill="#fbc400"/>
<polygon points="572,1369 600,1369 600,1395 572,1395" fill="#f39000"/>
<polygon points="572,1395 620,1395 615,1421 572,1421" fill="#f6a000"/></g></g>
<polyline points="150,1263.3 440,1151.4" fill="none" stroke="#333" stroke-width="1.1" stroke-dasharray="1.2 2.6"/>
<polyline points="143,1270.5 445,1154.0" fill="none" stroke="#333" stroke-width="1.1" stroke-dasharray="1.2 2.6"/>
<polyline points="145,1274.3 420,1168.1" fill="none" stroke="#333" stroke-width="1.1" stroke-dasharray="1.2 2.6"/>
<polyline points="148,1277.1 430,1168.2" fill="none" stroke="#333" stroke-width="1.1" stroke-dasharray="1.2 2.6"/>
<polyline points="152,1279.6 400,1183.8" fill="none" stroke="#333" stroke-width="1.1" stroke-dasharray="1.2 2.6"/>
<polyline points="320,1115 345,1107 372,1099 400,1094 421,1091 450,1082 465,1076" fill="none" stroke="#333" stroke-width="1.1" stroke-dasharray="1.2 2.6"/>
<polyline points="598,1080 620,1075 650,1068 680,1064" fill="none" stroke="#333" stroke-width="1.1" stroke-dasharray="1.2 2.6"/>
<polyline points="326,1116 350,1125 380,1136 400,1142 415,1156 425,1157 450,1153 465,1150 482,1143 488,1143 512,1149 525,1146 540,1148 575,1165 590,1173 600,1160 650,1168 700,1180 760,1195 791,1207" fill="none" stroke="#333" stroke-width="1.1" stroke-dasharray="1.2 2.6"/>
<polyline points="782,1160 906,1164 913,1156 1046,1156 1063,1155" fill="none" stroke="#333" stroke-width="1.1" stroke-dasharray="1.2 2.6"/>
<polyline points="782,1160 782,1207" fill="none" stroke="#333" stroke-width="1.1" stroke-dasharray="1.2 2.6"/>
<polyline points="580,1260 600,1265 628,1275" fill="none" stroke="#333" stroke-width="1.1" stroke-dasharray="1.2 2.6"/>
<polyline points="655,1265 700,1278 744,1295" fill="none" stroke="#333" stroke-width="1.1" stroke-dasharray="1.2 2.6"/>
<polyline points="657,1287 700,1290 740,1297" fill="none" stroke="#333" stroke-width="1.1" stroke-dasharray="1.2 2.6"/>
<polyline points="550,1272 533,1287" fill="none" stroke="#333" stroke-width="1.1" stroke-dasharray="1.2 2.6"/>
<polyline points="526,1288 545,1295 560,1302 580,1312 595,1324" fill="none" stroke="#333" stroke-width="1.1" stroke-dasharray="1.2 2.6"/>
<polyline points="540,1310 526,1330 540,1341 566,1341 579,1335 595,1325" fill="none" stroke="#333" stroke-width="1.1" stroke-dasharray="1.2 2.6"/>
<polyline points="548,1266 560,1268 575,1272 592,1276" fill="none" stroke="#333" stroke-width="1.1" stroke-dasharray="1.2 2.6"/>
<polyline points="596,1275 598,1300 600,1330 598,1360 598,1405" fill="none" stroke="#333" stroke-width="1.1" stroke-dasharray="1.2 2.6"/>
<polyline points="700,1098 720,1120" fill="none" stroke="#333" stroke-width="1.1" stroke-dasharray="1.2 2.6"/>
<polyline points="233.5,1177 250,1132 260,1177" fill="none" stroke="#333" stroke-width="1.1" stroke-dasharray="1.2 2.6"/>
<polyline points="243.6,1137 247,1177" fill="none" stroke="#333" stroke-width="1.1" stroke-dasharray="1.2 2.6"/>
<polyline points="270,1154 277,1177" fill="none" stroke="#333" stroke-width="1.1" stroke-dasharray="1.2 2.6"/>
<polyline points="218,1180 232,1140" fill="none" stroke="#333" stroke-width="1.1" stroke-dasharray="1.2 2.6"/>
<polyline points="330,1118 360,1112 380,1100" fill="none" stroke="#333" stroke-width="1.1" stroke-dasharray="1.2 2.6"/>
<polyline points="465,1075 475,1074 488,1072 500,1070 508,1071 520,1073 532,1076 545,1079 555,1077 565,1079 578,1079 588,1079 595,1082" fill="none" stroke="#2a2a2a" stroke-width="0.9"/>
<polyline points="680,1064 683,1067 685,1085 700,1105 712,1121 722,1145 730,1164 737,1196 744,1243 750,1265 748,1280 735,1282" fill="none" stroke="#2a2a2a" stroke-width="0.9"/>
<polyline points="598,1408 605,1390 618,1360 630,1335 645,1300 654,1287 660,1284" fill="none" stroke="#2a2a2a" stroke-width="0.9"/>
<polyline points="543,1262 549,1261 558,1264 562,1263 566,1258 570,1259 575,1262" fill="none" stroke="#2a2a2a" stroke-width="0.9"/>
<polyline points="213.5,1186.4 223.5,1173.8 230.2,1153.7 235.2,1132 241.9,1128.6 252,1137 258.7,1137 262,1153.7 265.4,1157 271.2,1167.1 276.2,1177.2 283.8,1177.2 297.2,1167.1 307.2,1157.1 313.9,1153.7" fill="none" stroke="#2a2a2a" stroke-width="0.9"/>
<polyline points="268.7,1104.4 271.2,1110.2 275.4,1120.3 280.4,1133.6 283.8,1143.7 288.8,1155.4 297.2,1163.8" fill="none" stroke="#2a2a2a" stroke-width="0.9"/>
<polyline points="268.7,1104.4 273.7,1101.8 280.4,1108.5 287.1,1101.8 293.8,1100.2 298.8,1103.5 307.2,1105.2 313.9,1104.4 318.9,1110.2 322.3,1115.2 325.6,1117.7" fill="none" stroke="#2a2a2a" stroke-width="0.9"/>
<polyline points="300.5,1142 327.3,1150.4" fill="none" stroke="#2a2a2a" stroke-width="0.9"/>
<polyline points="308.9,1127 318.9,1133.6 325.6,1132" fill="none" stroke="#2a2a2a" stroke-width="0.9"/>
<polyline points="226,1178 231,1150 236,1135" fill="none" stroke="#2a2a2a" stroke-width="0.9"/>
<polyline points="262,1154 266,1140 270,1128" fill="none" stroke="#2a2a2a" stroke-width="0.9"/>
<path d="M678,1060 L681,1066 L684,1060 M681,1066 L681,1072" stroke="#222" stroke-width="1.2" fill="none"/>
<path d="M591,1076 L596,1082 L592,1084" stroke="#222" stroke-width="1.5" fill="none"/>
<line x1="228.5" y1="929" x2="228.5" y2="1705" stroke="#000" stroke-opacity="0.22" stroke-width="1.3"/>
<line x1="414" y1="929" x2="414" y2="1705" stroke="#000" stroke-opacity="0.22" stroke-width="1.3"/>
<line x1="600" y1="929" x2="600" y2="1705" stroke="#000" stroke-opacity="0.22" stroke-width="1.3"/>
<line x1="785" y1="929" x2="785" y2="1705" stroke="#000" stroke-opacity="0.22" stroke-width="1.3"/>
<line x1="970.5" y1="929" x2="970.5" y2="1705" stroke="#000" stroke-opacity="0.22" stroke-width="1.3"/>
<line x1="136" y1="1085" x2="1064" y2="1085" stroke="#000" stroke-opacity="0.22" stroke-width="1.3"/>
<line x1="136" y1="1240.5" x2="1064" y2="1240.5" stroke="#000" stroke-opacity="0.22" stroke-width="1.3"/>
<line x1="136" y1="1395.5" x2="1064" y2="1395.5" stroke="#000" stroke-opacity="0.22" stroke-width="1.3"/>
<line x1="136" y1="1550.5" x2="1064" y2="1550.5" stroke="#000" stroke-opacity="0.22" stroke-width="1.3"/>
<rect x="136" y="925" width="92.5" height="4" fill="#000"/>
<rect x="136" y="1705" width="92.5" height="4" fill="#000"/>
<rect x="228.5" y="925.5" width="92.69999999999999" height="3" fill="#fff" stroke="#c8c8c8" stroke-width="1"/>
<rect x="228.5" y="1705.5" width="92.69999999999999" height="3" fill="#fff" stroke="#c8c8c8" stroke-width="1"/>
<rect x="321.2" y="925" width="92.80000000000001" height="4" fill="#000"/>
<rect x="321.2" y="1705" width="92.80000000000001" height="4" fill="#000"/>
<rect x="414" y="925.5" width="93" height="3" fill="#fff" stroke="#c8c8c8" stroke-width="1"/>
<rect x="414" y="1705.5" width="93" height="3" fill="#fff" stroke="#c8c8c8" stroke-width="1"/>
<rect x="507" y="925" width="93" height="4" fill="#000"/>
<rect x="507" y="1705" width="93" height="4" fill="#000"/>
<rect x="600" y="925.5" width="92.5" height="3" fill="#fff" stroke="#c8c8c8" stroke-width="1"/>
<rect x="600" y="1705.5" width="92.5" height="3" fill="#fff" stroke="#c8c8c8" stroke-width="1"/>
<rect x="692.5" y="925" width="92.5" height="4" fill="#000"/>
<rect x="692.5" y="1705" width="92.5" height="4" fill="#000"/>
<rect x="785" y="925.5" width="93" height="3" fill="#fff" stroke="#c8c8c8" stroke-width="1"/>
<rect x="785" y="1705.5" width="93" height="3" fill="#fff" stroke="#c8c8c8" stroke-width="1"/>
<rect x="878" y="925" width="92.5" height="4" fill="#000"/>
<rect x="878" y="1705" width="92.5" height="4" fill="#000"/>
<rect x="970.5" y="925.5" width="93.5" height="3" fill="#fff" stroke="#c8c8c8" stroke-width="1"/>
<rect x="970.5" y="1705.5" width="93.5" height="3" fill="#fff" stroke="#c8c8c8" stroke-width="1"/>
<rect x="130" y="929" width="6" height="77.70000000000005" fill="#000"/>
<rect x="1064" y="929" width="6" height="77.70000000000005" fill="#000"/>
<rect x="130.5" y="1006.7" width="5" height="78.29999999999995" fill="#fff" stroke="#c8c8c8" stroke-width="1"/>
<rect x="1064.5" y="1006.7" width="5" height="78.29999999999995" fill="#fff" stroke="#c8c8c8" stroke-width="1"/>
<rect x="130" y="1085" width="6" height="77.70000000000005" fill="#000"/>
<rect x="1064" y="1085" width="6" height="77.70000000000005" fill="#000"/>
<rect x="130.5" y="1162.7" width="5" height="77.79999999999995" fill="#fff" stroke="#c8c8c8" stroke-width="1"/>
<rect x="1064.5" y="1162.7" width="5" height="77.79999999999995" fill="#fff" stroke="#c8c8c8" stroke-width="1"/>
<rect x="130" y="1240.5" width="6" height="77.5" fill="#000"/>
<rect x="1064" y="1240.5" width="6" height="77.5" fill="#000"/>
<rect x="130.5" y="1318" width="5" height="77.5" fill="#fff" stroke="#c8c8c8" stroke-width="1"/>
<rect x="1064.5" y="1318" width="5" height="77.5" fill="#fff" stroke="#c8c8c8" stroke-width="1"/>
<rect x="130" y="1395.5" width="6" height="77.5" fill="#000"/>
<rect x="1064" y="1395.5" width="6" height="77.5" fill="#000"/>
<rect x="130.5" y="1473" width="5" height="77.5" fill="#fff" stroke="#c8c8c8" stroke-width="1"/>
<rect x="1064.5" y="1473" width="5" height="77.5" fill="#fff" stroke="#c8c8c8" stroke-width="1"/>
<rect x="130" y="1550.5" width="6" height="77.5" fill="#000"/>
<rect x="1064" y="1550.5" width="6" height="77.5" fill="#000"/>
<rect x="130.5" y="1628" width="5" height="77" fill="#fff" stroke="#c8c8c8" stroke-width="1"/>
<rect x="1064.5" y="1628" width="5" height="77" fill="#fff" stroke="#c8c8c8" stroke-width="1"/>
<rect x="130.5" y="925.5" width="5" height="3" fill="#fff" stroke="#c8c8c8" stroke-width="1"/>
<rect x="1064.5" y="925.5" width="5" height="3" fill="#fff" stroke="#c8c8c8" stroke-width="1"/>
<rect x="130.5" y="1705.5" width="5" height="3" fill="#fff" stroke="#c8c8c8" stroke-width="1"/>
<rect x="1064.5" y="1705.5" width="5" height="3" fill="#fff" stroke="#c8c8c8" stroke-width="1"/>
<text x="30" y="935.3" class="ax" textLength="90.5" lengthAdjust="spacingAndGlyphs">27.3°N</text>
<text x="14" y="1092.2" class="ax" textLength="106.5" lengthAdjust="spacingAndGlyphs">27.28°N</text>
<text x="14" y="1247.7" class="ax" textLength="106.5" lengthAdjust="spacingAndGlyphs">27.26°N</text>
<text x="14" y="1402.7" class="ax" textLength="106.5" lengthAdjust="spacingAndGlyphs">27.24°N</text>
<text x="14" y="1557.7" class="ax" textLength="106.5" lengthAdjust="spacingAndGlyphs">27.22°N</text>
<text x="30" y="1712.3" class="ax" textLength="90.5" lengthAdjust="spacingAndGlyphs">27.2°N</text>
<text x="169.0" y="1733.4" class="ax" textLength="119" lengthAdjust="spacingAndGlyphs">140.86°E</text>
<text x="354.5" y="1733.4" class="ax" textLength="119" lengthAdjust="spacingAndGlyphs">140.88°E</text>
<text x="548.0" y="1733.4" class="ax" textLength="104" lengthAdjust="spacingAndGlyphs">140.9°E</text>
<text x="725.5" y="1733.4" class="ax" textLength="119" lengthAdjust="spacingAndGlyphs">140.92°E</text>
<text x="911.0" y="1733.4" class="ax" textLength="119" lengthAdjust="spacingAndGlyphs">140.94°E</text>
<defs><linearGradient id="cbg" gradientUnits="userSpaceOnUse" x1="0" y1="928" x2="0" y2="1704"><stop offset="0.0000" stop-color="#fdbb82"/><stop offset="0.0348" stop-color="#f5a27e"/><stop offset="0.0606" stop-color="#ec8878"/><stop offset="0.0799" stop-color="#e26466"/><stop offset="0.0992" stop-color="#da4450"/><stop offset="0.1250" stop-color="#d82a38"/><stop offset="0.1572" stop-color="#d82020"/><stop offset="0.1894" stop-color="#e03818"/><stop offset="0.2152" stop-color="#f06010"/><stop offset="0.2410" stop-color="#f88800"/><stop offset="0.2732" stop-color="#fca800"/><stop offset="0.3054" stop-color="#fdc400"/><stop offset="0.3376" stop-color="#fcd000"/><stop offset="0.3634" stop-color="#e8d000"/><stop offset="0.3956" stop-color="#c8c800"/><stop offset="0.4278" stop-color="#98bc00"/><stop offset="0.4665" stop-color="#60b010"/><stop offset="0.5052" stop-color="#40ac20"/><stop offset="0.5438" stop-color="#28b030"/><stop offset="0.5825" stop-color="#10bf50"/><stop offset="0.6211" stop-color="#00cc78"/><stop offset="0.6598" stop-color="#00d0a8"/><stop offset="0.6920" stop-color="#08c0d0"/><stop offset="0.7242" stop-color="#18a8e8"/><stop offset="0.7629" stop-color="#2890f8"/><stop offset="0.8015" stop-color="#3c7cff"/><stop offset="0.8402" stop-color="#5060ff"/><stop offset="0.8789" stop-color="#6048f8"/><stop offset="0.9175" stop-color="#7038f8"/><stop offset="0.9497" stop-color="#9a40f8"/><stop offset="0.9820" stop-color="#c060f8"/><stop offset="1.0000" stop-color="#d87cf8"/></linearGradient></defs>
<path d="M1092,928 L1106.5,917 L1121,928 L1121,1704 L1106.5,1716 L1092,1704 Z" fill="url(#cbg)"/>
<path d="M1092,928 L1106.5,917 L1121,928 Z" fill="#fcb884"/>
<path d="M1092,1704 L1106.5,1716 L1121,1704 Z" fill="#dc80f8"/>
<line x1="1092" y1="928.4" x2="1096" y2="928.4" stroke="#7a5030" stroke-width="1"/><line x1="1117" y1="928.4" x2="1121" y2="928.4" stroke="#7a5030" stroke-width="1"/>
<line x1="1092" y1="1070.5" x2="1096" y2="1070.5" stroke="#333" stroke-width="1"/><line x1="1117" y1="1070.5" x2="1121" y2="1070.5" stroke="#333" stroke-width="1"/>
<line x1="1092" y1="1210.9" x2="1096" y2="1210.9" stroke="#333" stroke-width="1"/><line x1="1117" y1="1210.9" x2="1121" y2="1210.9" stroke="#333" stroke-width="1"/>
<line x1="1092" y1="1352.8" x2="1096" y2="1352.8" stroke="#333" stroke-width="1"/><line x1="1117" y1="1352.8" x2="1121" y2="1352.8" stroke="#333" stroke-width="1"/>
<line x1="1092" y1="1493.0" x2="1096" y2="1493.0" stroke="#333" stroke-width="1"/><line x1="1117" y1="1493.0" x2="1121" y2="1493.0" stroke="#333" stroke-width="1"/>
<line x1="1092" y1="1633.4" x2="1096" y2="1633.4" stroke="#333" stroke-width="1"/><line x1="1117" y1="1633.4" x2="1121" y2="1633.4" stroke="#333" stroke-width="1"/>
<text x="1128.6" y="935.5" class="ax" textLength="37.5" lengthAdjust="spacingAndGlyphs">6.4</text>
<text x="1128.6" y="1077.6" class="ax" textLength="53.5" lengthAdjust="spacingAndGlyphs">6.35</text>
<text x="1128.6" y="1218.0" class="ax" textLength="37.5" lengthAdjust="spacingAndGlyphs">6.3</text>
<text x="1128.6" y="1359.9" class="ax" textLength="53.5" lengthAdjust="spacingAndGlyphs">6.25</text>
<text x="1128.6" y="1500.1" class="ax" textLength="37.5" lengthAdjust="spacingAndGlyphs">6.2</text>
<text x="1128.6" y="1640.5" class="ax" textLength="53.5" lengthAdjust="spacingAndGlyphs">6.15</text>
<text x="-1702" y="1087.6" transform="rotate(-90)" class="odv" textLength="103" lengthAdjust="spacingAndGlyphs">Ocean Data View</text>
<defs><clipPath id="isc"><path d="M305.3,1282.9 L312.2,1274.3 L329.3,1270.9 L346.5,1267.4 L363.6,1260.6 L380.8,1255.4 L397.9,1252.0 L415.1,1246.9 L432.2,1245.1 L449.4,1250.3 L466.6,1257.2 L480.3,1265.7 L492.3,1281.2 L494.0,1308.6 L490.6,1322.3 L487.1,1336.1 L483.7,1351.5 L466.6,1365.2 L449.4,1375.5 L423.7,1377.2 L397.9,1380.7 L372.2,1377.2 L346.5,1375.5 L341.0,1372.0 L335.0,1361.0 L328.0,1351.0 L319.0,1344.0 L310.0,1341.5 L308.7,1325.8 L303.6,1308.6 L301.9,1291.5 Z"/></clipPath>
<filter id="bl2" x="-20%" y="-20%" width="140%" height="140%"><feGaussianBlur stdDeviation="4"/></filter>
<filter id="bl4" x="-20%" y="-20%" width="140%" height="140%"><feGaussianBlur stdDeviation="1.5"/></filter>
<filter id="tex" x="0" y="0" width="100%" height="100%"><feTurbulence type="fractalNoise" baseFrequency="0.1 0.35" numOctaves="2" seed="3"/><feColorMatrix type="matrix" values="0 0 0 0 0.5  0 0 0 0 0.5  0 0 0 0 0.5  0 0 0 1.6 -0.55"/></filter></defs>
<path d="M299.0,1346.0 L306.0,1342.0 L316.0,1341.0 L326.0,1348.0 L333.0,1358.0 L339.0,1370.0 L344.0,1378.0 L332.0,1377.0 L320.0,1368.0 L308.0,1360.0 L300.0,1353.0 Z" fill="#a4927a"/>
<path d="M305.3,1282.9 L312.2,1274.3 L329.3,1270.9 L346.5,1267.4 L363.6,1260.6 L380.8,1255.4 L397.9,1252.0 L415.1,1246.9 L432.2,1245.1 L449.4,1250.3 L466.6,1257.2 L480.3,1265.7 L492.3,1281.2 L494.0,1308.6 L490.6,1322.3 L487.1,1336.1 L483.7,1351.5 L466.6,1365.2 L449.4,1375.5 L423.7,1377.2 L397.9,1380.7 L372.2,1377.2 L346.5,1375.5 L341.0,1372.0 L335.0,1361.0 L328.0,1351.0 L319.0,1344.0 L310.0,1341.5 L308.7,1325.8 L303.6,1308.6 L301.9,1291.5 Z" fill="#6c6c6c"/>
<g clip-path="url(#isc)">
<g filter="url(#bl2)">
<path d="M300,1285 L330,1268 L380,1254 L432,1243 L470,1256 L495,1280 L495,1300 L440,1290 L380,1290 L330,1300 L300,1310 Z" fill="#484848"/>
<ellipse cx="328" cy="1322" rx="22" ry="30" fill="#767676"/>
<ellipse cx="465" cy="1335" rx="28" ry="35" fill="#8e8e8a"/>
<ellipse cx="430" cy="1360" rx="30" ry="12" fill="#7c7c7a"/>
<path d="M352,1320 Q395,1296 440,1314 L436,1326 Q395,1308 358,1332 Z" fill="#20262a"/>
</g>
<rect x="295" y="1240" width="205" height="145" filter="url(#tex)" opacity="0.3"/>
<g filter="url(#bl4)">
<ellipse cx="397.5" cy="1338.5" rx="26" ry="19" fill="#a8a8a2"/>
<ellipse cx="401" cy="1341" rx="20" ry="14" fill="#6a6a68"/>
<ellipse cx="408" cy="1346" rx="8" ry="6" fill="#4a4a4a"/>
<ellipse cx="398" cy="1334" rx="5" ry="4" fill="#505050"/>
<path d="M374,1330 Q380,1320 392,1322 L390,1336 L378,1340 Z" fill="#e4e4e0"/>
<ellipse cx="392" cy="1342" rx="6" ry="4" fill="#303030"/>
</g>
</g>
<path d="M302,1290 L312,1274 L329,1271 L346,1267 L364,1260 L381,1255 L398,1252 L415,1247 L432,1245 L449,1250 L467,1257 L480,1266 L492,1281 L494,1308" fill="none" stroke="#2a2a2a" stroke-width="2" opacity="0.8"/>
<text x="353.5" y="1298" class="ni" textLength="129" lengthAdjust="spacingAndGlyphs">Nishinoshima</text>
<text x="10" y="846" class="pl">B</text>
</svg>
</body></html>
